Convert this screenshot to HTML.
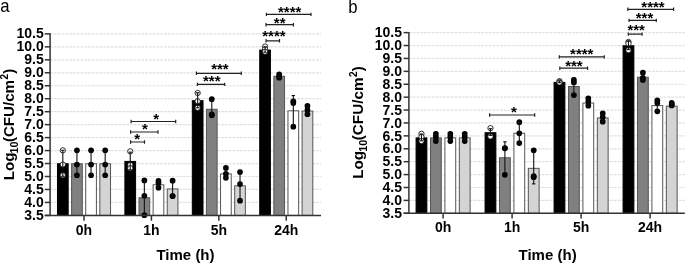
<!DOCTYPE html>
<html><head><meta charset="utf-8"><title>CFU chart</title>
<style>
html,body{margin:0;padding:0;background:#fff;}
svg{display:block;}
text{font-family:"Liberation Sans",Arial,sans-serif;fill:#000;}
.g{stroke:#e0e0e0;stroke-width:1.2;stroke-dasharray:2.8 1;}
.bar{stroke:#555;stroke-width:1;}
.e{stroke:#111;stroke-width:1.1;}
.po{fill:#fff;stroke:#000;stroke-width:0.8;}
.pf{fill:#000;}
.ax{stroke:#333;stroke-width:1.5;}
.br{stroke:#222;stroke-width:1.2;fill:none;}
.yl{font-weight:bold;font-size:14px;text-anchor:end;}
.xl{font-weight:bold;font-size:14px;text-anchor:middle;}
.tt{font-weight:bold;font-size:15px;text-anchor:middle;}
.yt{font-weight:bold;}
.sub,.sup{font-size:9.5px;}
.pl{font-size:18px;}
.st{font-size:15px;text-anchor:middle;font-weight:bold;}
</style></head>
<body>
<svg width="685" height="263" viewBox="0 0 685 263">
<line x1="50.1" y1="202.44" x2="321" y2="202.44" class="g"/>
<line x1="50.1" y1="189.47" x2="321" y2="189.47" class="g"/>
<line x1="50.1" y1="176.5" x2="321" y2="176.5" class="g"/>
<line x1="50.1" y1="163.54" x2="321" y2="163.54" class="g"/>
<line x1="50.1" y1="150.57" x2="321" y2="150.57" class="g"/>
<line x1="50.1" y1="137.61" x2="321" y2="137.61" class="g"/>
<line x1="50.1" y1="124.65" x2="321" y2="124.65" class="g"/>
<line x1="50.1" y1="111.68" x2="321" y2="111.68" class="g"/>
<line x1="50.1" y1="98.72" x2="321" y2="98.72" class="g"/>
<line x1="50.1" y1="85.75" x2="321" y2="85.75" class="g"/>
<line x1="50.1" y1="72.78" x2="321" y2="72.78" class="g"/>
<line x1="50.1" y1="59.82" x2="321" y2="59.82" class="g"/>
<line x1="50.1" y1="46.86" x2="321" y2="46.86" class="g"/>
<line x1="50.1" y1="33.89" x2="321" y2="33.89" class="g"/>
<rect x="57.47" y="163.75" width="10.7" height="51.65" fill="#000000" class="bar" style="stroke:#000"/>
<rect x="71.59" y="163.75" width="10.7" height="51.65" fill="#808080" class="bar"/>
<rect x="85.71" y="163.75" width="10.7" height="51.65" fill="#ffffff" class="bar"/>
<rect x="99.83" y="163.75" width="10.7" height="51.65" fill="#d4d4d4" class="bar"/>
<circle cx="62.82" cy="150.32" r="2.65" class="po"/>
<circle cx="62.82" cy="164.6" r="2.65" class="po"/>
<circle cx="62.82" cy="175.24" r="2.65" class="po"/>
<line x1="62.82" y1="176.27" x2="62.82" y2="150.32" class="e"/>
<line x1="61.12" y1="176.27" x2="64.52" y2="176.27" class="e"/>
<line x1="61.12" y1="150.32" x2="64.52" y2="150.32" class="e"/>
<circle cx="76.94" cy="150.32" r="2.85" class="pf"/>
<circle cx="76.94" cy="164.6" r="2.85" class="pf"/>
<circle cx="76.94" cy="175.24" r="2.85" class="pf"/>
<line x1="76.94" y1="176.27" x2="76.94" y2="150.32" class="e"/>
<line x1="75.24" y1="176.27" x2="78.64" y2="176.27" class="e"/>
<line x1="75.24" y1="150.32" x2="78.64" y2="150.32" class="e"/>
<circle cx="91.06" cy="150.32" r="2.85" class="pf"/>
<circle cx="91.06" cy="164.6" r="2.85" class="pf"/>
<circle cx="91.06" cy="175.24" r="2.85" class="pf"/>
<line x1="91.06" y1="176.27" x2="91.06" y2="150.32" class="e"/>
<line x1="89.36" y1="176.27" x2="92.76" y2="176.27" class="e"/>
<line x1="89.36" y1="150.32" x2="92.76" y2="150.32" class="e"/>
<circle cx="105.18" cy="150.32" r="2.85" class="pf"/>
<circle cx="105.18" cy="164.6" r="2.85" class="pf"/>
<circle cx="105.18" cy="175.24" r="2.85" class="pf"/>
<line x1="105.18" y1="176.27" x2="105.18" y2="150.32" class="e"/>
<line x1="103.48" y1="176.27" x2="106.88" y2="176.27" class="e"/>
<line x1="103.48" y1="150.32" x2="106.88" y2="150.32" class="e"/>
<line x1="84" y1="215.4" x2="84" y2="220.7" class="ax"/>
<rect x="124.89" y="161.41" width="10.7" height="53.99" fill="#000000" class="bar" style="stroke:#000"/>
<rect x="139.01" y="197.74" width="10.7" height="17.66" fill="#808080" class="bar"/>
<rect x="153.13" y="184.77" width="10.7" height="30.63" fill="#ffffff" class="bar"/>
<rect x="167.25" y="188.92" width="10.7" height="26.48" fill="#d4d4d4" class="bar"/>
<circle cx="130.24" cy="151.36" r="2.65" class="po"/>
<circle cx="130.24" cy="164.86" r="2.65" class="po"/>
<circle cx="130.24" cy="168.23" r="2.65" class="po"/>
<line x1="130.24" y1="169.79" x2="130.24" y2="152.14" class="e"/>
<line x1="128.54" y1="169.79" x2="131.94" y2="169.79" class="e"/>
<line x1="128.54" y1="152.14" x2="131.94" y2="152.14" class="e"/>
<circle cx="144.36" cy="180.43" r="2.85" class="pf"/>
<circle cx="144.36" cy="195.74" r="2.85" class="pf"/>
<circle cx="144.36" cy="215.2" r="2.85" class="pf"/>
<line x1="144.36" y1="214.68" x2="144.36" y2="179.91" class="e"/>
<line x1="142.66" y1="214.68" x2="146.06" y2="214.68" class="e"/>
<line x1="142.66" y1="179.91" x2="146.06" y2="179.91" class="e"/>
<circle cx="158.48" cy="180.95" r="2.85" class="pf"/>
<circle cx="158.48" cy="183.02" r="2.85" class="pf"/>
<circle cx="158.48" cy="187.69" r="2.85" class="pf"/>
<line x1="158.48" y1="187.69" x2="158.48" y2="180.95" class="e"/>
<line x1="156.78" y1="187.69" x2="160.18" y2="187.69" class="e"/>
<line x1="156.78" y1="180.95" x2="160.18" y2="180.95" class="e"/>
<circle cx="172.6" cy="180.69" r="2.85" class="pf"/>
<circle cx="172.6" cy="196" r="2.85" class="pf"/>
<circle cx="172.6" cy="196" r="2.85" class="pf"/>
<line x1="172.6" y1="196.26" x2="172.6" y2="180.69" class="e"/>
<line x1="170.9" y1="196.26" x2="174.3" y2="196.26" class="e"/>
<line x1="170.9" y1="180.69" x2="174.3" y2="180.69" class="e"/>
<line x1="151.42" y1="215.4" x2="151.42" y2="220.7" class="ax"/>
<rect x="192.31" y="100.69" width="10.7" height="114.71" fill="#000000" class="bar" style="stroke:#000"/>
<rect x="206.43" y="109.26" width="10.7" height="106.14" fill="#808080" class="bar"/>
<rect x="220.55" y="173.87" width="10.7" height="41.53" fill="#ffffff" class="bar"/>
<rect x="234.67" y="185.81" width="10.7" height="29.59" fill="#d4d4d4" class="bar"/>
<circle cx="197.66" cy="92.98" r="2.65" class="po"/>
<circle cx="197.66" cy="101.28" r="2.65" class="po"/>
<circle cx="197.66" cy="107.77" r="2.65" class="po"/>
<line x1="197.66" y1="107.77" x2="197.66" y2="92.72" class="e"/>
<line x1="195.96" y1="107.77" x2="199.36" y2="107.77" class="e"/>
<line x1="195.96" y1="92.72" x2="199.36" y2="92.72" class="e"/>
<circle cx="211.78" cy="99.2" r="2.85" class="pf"/>
<circle cx="211.78" cy="114.25" r="2.85" class="pf"/>
<circle cx="211.78" cy="115.29" r="2.85" class="pf"/>
<line x1="211.78" y1="116.85" x2="211.78" y2="100.5" class="e"/>
<line x1="210.08" y1="116.85" x2="213.48" y2="116.85" class="e"/>
<line x1="210.08" y1="100.5" x2="213.48" y2="100.5" class="e"/>
<circle cx="225.9" cy="167.97" r="2.85" class="pf"/>
<circle cx="225.9" cy="173.94" r="2.85" class="pf"/>
<circle cx="225.9" cy="177.83" r="2.85" class="pf"/>
<line x1="225.9" y1="178.35" x2="225.9" y2="168.23" class="e"/>
<line x1="224.2" y1="178.35" x2="227.6" y2="178.35" class="e"/>
<line x1="224.2" y1="168.23" x2="227.6" y2="168.23" class="e"/>
<circle cx="240.02" cy="172.12" r="2.85" class="pf"/>
<circle cx="240.02" cy="184.06" r="2.85" class="pf"/>
<circle cx="240.02" cy="200.67" r="2.85" class="pf"/>
<line x1="240.02" y1="199.89" x2="240.02" y2="171.34" class="e"/>
<line x1="238.32" y1="199.89" x2="241.72" y2="199.89" class="e"/>
<line x1="238.32" y1="171.34" x2="241.72" y2="171.34" class="e"/>
<line x1="218.84" y1="215.4" x2="218.84" y2="220.7" class="ax"/>
<rect x="259.73" y="50.09" width="10.7" height="165.31" fill="#000000" class="bar" style="stroke:#000"/>
<rect x="273.85" y="76.3" width="10.7" height="139.1" fill="#808080" class="bar"/>
<rect x="287.97" y="110.81" width="10.7" height="104.59" fill="#ffffff" class="bar"/>
<rect x="302.09" y="111.07" width="10.7" height="104.33" fill="#d4d4d4" class="bar"/>
<circle cx="265.08" cy="46.53" r="2.65" class="po"/>
<circle cx="265.08" cy="49.12" r="2.65" class="po"/>
<circle cx="265.08" cy="51.71" r="2.65" class="po"/>
<line x1="265.08" y1="52.23" x2="265.08" y2="47.04" class="e"/>
<line x1="263.38" y1="52.23" x2="266.78" y2="52.23" class="e"/>
<line x1="263.38" y1="47.04" x2="266.78" y2="47.04" class="e"/>
<circle cx="279.2" cy="74.29" r="2.85" class="pf"/>
<circle cx="279.2" cy="76.37" r="2.85" class="pf"/>
<circle cx="279.2" cy="77.66" r="2.85" class="pf"/>
<line x1="279.2" y1="77.66" x2="279.2" y2="74.03" class="e"/>
<line x1="277.5" y1="77.66" x2="280.9" y2="77.66" class="e"/>
<line x1="277.5" y1="74.03" x2="280.9" y2="74.03" class="e"/>
<circle cx="293.32" cy="101.28" r="2.85" class="pf"/>
<circle cx="293.32" cy="103.1" r="2.85" class="pf"/>
<circle cx="293.32" cy="126.71" r="2.85" class="pf"/>
<line x1="293.32" y1="125.15" x2="293.32" y2="95.57" class="e"/>
<line x1="291.62" y1="125.15" x2="295.02" y2="125.15" class="e"/>
<line x1="291.62" y1="95.57" x2="295.02" y2="95.57" class="e"/>
<circle cx="307.44" cy="105.95" r="2.85" class="pf"/>
<circle cx="307.44" cy="110.1" r="2.85" class="pf"/>
<circle cx="307.44" cy="114.25" r="2.85" class="pf"/>
<line x1="307.44" y1="114.25" x2="307.44" y2="106.47" class="e"/>
<line x1="305.74" y1="114.25" x2="309.14" y2="114.25" class="e"/>
<line x1="305.74" y1="106.47" x2="309.14" y2="106.47" class="e"/>
<line x1="286.26" y1="215.4" x2="286.26" y2="220.7" class="ax"/>
<line x1="50.1" y1="33.19" x2="50.1" y2="215.4" class="ax"/>
<line x1="44.8" y1="215.4" x2="321" y2="215.4" class="ax"/>
<line x1="44.8" y1="215.4" x2="50.1" y2="215.4" class="ax"/>
<text x="43.8" y="220.02" class="yl">3.5</text>
<line x1="44.8" y1="202.44" x2="50.1" y2="202.44" class="ax"/>
<text x="43.8" y="206.99" class="yl">4.0</text>
<line x1="44.8" y1="189.47" x2="50.1" y2="189.47" class="ax"/>
<text x="43.8" y="193.96" class="yl">4.5</text>
<line x1="44.8" y1="176.5" x2="50.1" y2="176.5" class="ax"/>
<text x="43.8" y="180.92" class="yl">5.0</text>
<line x1="44.8" y1="163.54" x2="50.1" y2="163.54" class="ax"/>
<text x="43.8" y="167.89" class="yl">5.5</text>
<line x1="44.8" y1="150.57" x2="50.1" y2="150.57" class="ax"/>
<text x="43.8" y="154.86" class="yl">6.0</text>
<line x1="44.8" y1="137.61" x2="50.1" y2="137.61" class="ax"/>
<text x="43.8" y="141.83" class="yl">6.5</text>
<line x1="44.8" y1="124.65" x2="50.1" y2="124.65" class="ax"/>
<text x="43.8" y="128.8" class="yl">7.0</text>
<line x1="44.8" y1="111.68" x2="50.1" y2="111.68" class="ax"/>
<text x="43.8" y="115.76" class="yl">7.5</text>
<line x1="44.8" y1="98.72" x2="50.1" y2="98.72" class="ax"/>
<text x="43.8" y="102.73" class="yl">8.0</text>
<line x1="44.8" y1="85.75" x2="50.1" y2="85.75" class="ax"/>
<text x="43.8" y="89.7" class="yl">8.5</text>
<line x1="44.8" y1="72.78" x2="50.1" y2="72.78" class="ax"/>
<text x="43.8" y="76.67" class="yl">9.0</text>
<line x1="44.8" y1="59.82" x2="50.1" y2="59.82" class="ax"/>
<text x="43.8" y="63.63" class="yl">9.5</text>
<line x1="44.8" y1="46.86" x2="50.1" y2="46.86" class="ax"/>
<text x="43.8" y="50.6" class="yl">10.0</text>
<line x1="44.8" y1="33.89" x2="50.1" y2="33.89" class="ax"/>
<text x="43.8" y="37.57" class="yl">10.5</text>
<text x="84" y="234.6" class="xl">0h</text>
<text x="151.42" y="234.6" class="xl">1h</text>
<text x="218.84" y="234.6" class="xl">5h</text>
<text x="286.26" y="234.6" class="xl">24h</text>
<text x="185.5" y="259.8" class="tt">Time (h)</text>
<g transform="translate(14.3,179.7) rotate(-90) scale(1.0,1)">
<text transform="translate(-0.6,0) scale(1.043,1)" class="yt" style="font-size:14.5px">Log</text>
<text transform="translate(26.2,3.6) scale(1.08,1)" class="yt" style="font-size:10px">10</text>
<text transform="translate(37.6,0) scale(1.043,1)" class="yt" style="font-size:14.5px">(CFU/cm</text>
<text transform="translate(100.2,-6) scale(1.0,1)" class="yt" style="font-size:10px">2</text>
<text transform="translate(106,0) scale(1.043,1)" class="yt" style="font-size:14.5px">)</text>
</g>
<text transform="translate(0.3,12.2) scale(0.93,1)" class="pl">a</text>
<path d="M130.6,140.3V143.7M130.6,142H144.5M144.5,140.3V143.7" class="br"/>
<text x="137.2" y="144.25" class="st">*</text>
<path d="M130.6,130.3V133.7M130.6,132H158M158,130.3V133.7" class="br"/>
<text x="144.8" y="134.05" class="st">*</text>
<path d="M131.1,119.8V123.2M131.1,121.5H175.7M175.7,119.8V123.2" class="br"/>
<text x="156.2" y="124" class="st">*</text>
<path d="M197.4,82.7V86.1M197.4,84.4H224.7M224.7,82.7V86.1" class="br"/>
<text x="211.8" y="86.2" class="st">***</text>
<path d="M196.4,71.6V75M196.4,73.3H241.3M241.3,71.6V75" class="br"/>
<text x="219.9" y="73.95" class="st">***</text>
<path d="M266,39.1V42.5M266,40.8H279.5M279.5,39.1V42.5" class="br"/>
<text x="273.9" y="40.75" class="st">****</text>
<path d="M266,23V26.4M266,24.7H293.4M293.4,23V26.4" class="br"/>
<text x="279.7" y="27.6" class="st">**</text>
<path d="M266.4,12.7V16.1M266.4,14.4H311M311,12.7V16.1" class="br"/>
<text x="289.65" y="17.05" class="st">****</text>
<line x1="408.9" y1="200.4" x2="684.8" y2="200.4" class="g"/>
<line x1="408.9" y1="187.49" x2="684.8" y2="187.49" class="g"/>
<line x1="408.9" y1="174.59" x2="684.8" y2="174.59" class="g"/>
<line x1="408.9" y1="161.68" x2="684.8" y2="161.68" class="g"/>
<line x1="408.9" y1="148.78" x2="684.8" y2="148.78" class="g"/>
<line x1="408.9" y1="135.87" x2="684.8" y2="135.87" class="g"/>
<line x1="408.9" y1="122.97" x2="684.8" y2="122.97" class="g"/>
<line x1="408.9" y1="110.06" x2="684.8" y2="110.06" class="g"/>
<line x1="408.9" y1="97.16" x2="684.8" y2="97.16" class="g"/>
<line x1="408.9" y1="84.25" x2="684.8" y2="84.25" class="g"/>
<line x1="408.9" y1="71.35" x2="684.8" y2="71.35" class="g"/>
<line x1="408.9" y1="58.44" x2="684.8" y2="58.44" class="g"/>
<line x1="408.9" y1="45.54" x2="684.8" y2="45.54" class="g"/>
<line x1="408.9" y1="32.63" x2="684.8" y2="32.63" class="g"/>
<rect x="416.07" y="137.88" width="10.8" height="75.42" fill="#000000" class="bar" style="stroke:#000"/>
<rect x="430.49" y="137.88" width="10.8" height="75.42" fill="#808080" class="bar"/>
<rect x="444.91" y="137.88" width="10.8" height="75.42" fill="#ffffff" class="bar"/>
<rect x="459.33" y="137.88" width="10.8" height="75.42" fill="#d4d4d4" class="bar"/>
<circle cx="421.47" cy="133.82" r="2.65" class="po"/>
<circle cx="421.47" cy="136.92" r="2.65" class="po"/>
<circle cx="421.47" cy="141.05" r="2.65" class="po"/>
<line x1="421.47" y1="140.79" x2="421.47" y2="134.08" class="e"/>
<line x1="419.77" y1="140.79" x2="423.17" y2="140.79" class="e"/>
<line x1="419.77" y1="134.08" x2="423.17" y2="134.08" class="e"/>
<circle cx="435.89" cy="133.82" r="2.85" class="pf"/>
<circle cx="435.89" cy="136.92" r="2.85" class="pf"/>
<circle cx="435.89" cy="141.05" r="2.85" class="pf"/>
<line x1="435.89" y1="140.79" x2="435.89" y2="134.08" class="e"/>
<line x1="434.19" y1="140.79" x2="437.59" y2="140.79" class="e"/>
<line x1="434.19" y1="134.08" x2="437.59" y2="134.08" class="e"/>
<circle cx="450.31" cy="133.82" r="2.85" class="pf"/>
<circle cx="450.31" cy="136.92" r="2.85" class="pf"/>
<circle cx="450.31" cy="141.05" r="2.85" class="pf"/>
<line x1="450.31" y1="140.79" x2="450.31" y2="134.08" class="e"/>
<line x1="448.61" y1="140.79" x2="452.01" y2="140.79" class="e"/>
<line x1="448.61" y1="134.08" x2="452.01" y2="134.08" class="e"/>
<circle cx="464.73" cy="133.82" r="2.85" class="pf"/>
<circle cx="464.73" cy="136.92" r="2.85" class="pf"/>
<circle cx="464.73" cy="141.05" r="2.85" class="pf"/>
<line x1="464.73" y1="140.79" x2="464.73" y2="134.08" class="e"/>
<line x1="463.03" y1="140.79" x2="466.43" y2="140.79" class="e"/>
<line x1="463.03" y1="134.08" x2="466.43" y2="134.08" class="e"/>
<line x1="443.1" y1="213.3" x2="443.1" y2="218.6" class="ax"/>
<rect x="485.07" y="132.72" width="10.8" height="80.58" fill="#000000" class="bar" style="stroke:#000"/>
<rect x="499.49" y="157.76" width="10.8" height="55.54" fill="#808080" class="bar"/>
<rect x="513.91" y="133.24" width="10.8" height="80.06" fill="#ffffff" class="bar"/>
<rect x="528.33" y="168.34" width="10.8" height="44.96" fill="#d4d4d4" class="bar"/>
<circle cx="490.47" cy="128.14" r="2.65" class="po"/>
<circle cx="490.47" cy="136.14" r="2.65" class="po"/>
<circle cx="490.47" cy="136.4" r="2.65" class="po"/>
<line x1="490.47" y1="135.37" x2="490.47" y2="128.66" class="e"/>
<line x1="488.77" y1="135.37" x2="492.17" y2="135.37" class="e"/>
<line x1="488.77" y1="128.66" x2="492.17" y2="128.66" class="e"/>
<circle cx="504.89" cy="148.02" r="2.85" class="pf"/>
<circle cx="504.89" cy="148.28" r="2.85" class="pf"/>
<circle cx="504.89" cy="174.86" r="2.85" class="pf"/>
<line x1="504.89" y1="172.79" x2="504.89" y2="141.82" class="e"/>
<line x1="503.19" y1="172.79" x2="506.59" y2="172.79" class="e"/>
<line x1="503.19" y1="141.82" x2="506.59" y2="141.82" class="e"/>
<circle cx="519.31" cy="122.21" r="2.85" class="pf"/>
<circle cx="519.31" cy="133.31" r="2.85" class="pf"/>
<circle cx="519.31" cy="143.11" r="2.85" class="pf"/>
<line x1="519.31" y1="143.11" x2="519.31" y2="122.47" class="e"/>
<line x1="517.61" y1="143.11" x2="521.01" y2="143.11" class="e"/>
<line x1="517.61" y1="122.47" x2="521.01" y2="122.47" class="e"/>
<circle cx="533.73" cy="150.34" r="2.85" class="pf"/>
<circle cx="533.73" cy="176.15" r="2.85" class="pf"/>
<circle cx="533.73" cy="177.18" r="2.85" class="pf"/>
<line x1="533.73" y1="183.89" x2="533.73" y2="151.89" class="e"/>
<line x1="532.03" y1="183.89" x2="535.43" y2="183.89" class="e"/>
<line x1="532.03" y1="151.89" x2="535.43" y2="151.89" class="e"/>
<line x1="512.1" y1="213.3" x2="512.1" y2="218.6" class="ax"/>
<rect x="554.07" y="82.39" width="10.8" height="130.91" fill="#000000" class="bar" style="stroke:#000"/>
<rect x="568.49" y="86.52" width="10.8" height="126.78" fill="#808080" class="bar"/>
<rect x="582.91" y="103.04" width="10.8" height="110.26" fill="#ffffff" class="bar"/>
<rect x="597.33" y="118.01" width="10.8" height="95.29" fill="#d4d4d4" class="bar"/>
<circle cx="559.47" cy="81.17" r="2.65" class="po"/>
<circle cx="559.47" cy="82.46" r="2.65" class="po"/>
<circle cx="559.47" cy="82.46" r="2.65" class="po"/>
<line x1="559.47" y1="82.72" x2="559.47" y2="80.91" class="e"/>
<line x1="557.77" y1="82.72" x2="561.17" y2="82.72" class="e"/>
<line x1="557.77" y1="80.91" x2="561.17" y2="80.91" class="e"/>
<circle cx="573.89" cy="79.88" r="2.85" class="pf"/>
<circle cx="573.89" cy="82.46" r="2.85" class="pf"/>
<circle cx="573.89" cy="95.11" r="2.85" class="pf"/>
<line x1="573.89" y1="94.07" x2="573.89" y2="78.07" class="e"/>
<line x1="572.19" y1="94.07" x2="575.59" y2="94.07" class="e"/>
<line x1="572.19" y1="78.07" x2="575.59" y2="78.07" class="e"/>
<circle cx="588.31" cy="98.46" r="2.85" class="pf"/>
<circle cx="588.31" cy="101.82" r="2.85" class="pf"/>
<circle cx="588.31" cy="105.69" r="2.85" class="pf"/>
<line x1="588.31" y1="106.2" x2="588.31" y2="98.98" class="e"/>
<line x1="586.61" y1="106.2" x2="590.01" y2="106.2" class="e"/>
<line x1="586.61" y1="98.98" x2="590.01" y2="98.98" class="e"/>
<circle cx="602.73" cy="113.43" r="2.85" class="pf"/>
<circle cx="602.73" cy="117.3" r="2.85" class="pf"/>
<circle cx="602.73" cy="121.69" r="2.85" class="pf"/>
<line x1="602.73" y1="121.69" x2="602.73" y2="113.43" class="e"/>
<line x1="601.03" y1="121.69" x2="604.43" y2="121.69" class="e"/>
<line x1="601.03" y1="113.43" x2="604.43" y2="113.43" class="e"/>
<line x1="581.1" y1="213.3" x2="581.1" y2="218.6" class="ax"/>
<rect x="623.07" y="45.74" width="10.8" height="167.56" fill="#000000" class="bar" style="stroke:#000"/>
<rect x="637.49" y="77.23" width="10.8" height="136.07" fill="#808080" class="bar"/>
<rect x="651.91" y="105.62" width="10.8" height="107.68" fill="#ffffff" class="bar"/>
<rect x="666.33" y="106.14" width="10.8" height="107.16" fill="#d4d4d4" class="bar"/>
<circle cx="628.47" cy="41.94" r="2.65" class="po"/>
<circle cx="628.47" cy="43.49" r="2.65" class="po"/>
<circle cx="628.47" cy="50.2" r="2.65" class="po"/>
<line x1="628.47" y1="49.68" x2="628.47" y2="40.91" class="e"/>
<line x1="626.77" y1="49.68" x2="630.17" y2="49.68" class="e"/>
<line x1="626.77" y1="40.91" x2="630.17" y2="40.91" class="e"/>
<circle cx="642.89" cy="72.65" r="2.85" class="pf"/>
<circle cx="642.89" cy="77.81" r="2.85" class="pf"/>
<circle cx="642.89" cy="79.88" r="2.85" class="pf"/>
<line x1="642.89" y1="80.39" x2="642.89" y2="73.17" class="e"/>
<line x1="641.19" y1="80.39" x2="644.59" y2="80.39" class="e"/>
<line x1="641.19" y1="73.17" x2="644.59" y2="73.17" class="e"/>
<circle cx="657.31" cy="100.27" r="2.85" class="pf"/>
<circle cx="657.31" cy="103.11" r="2.85" class="pf"/>
<circle cx="657.31" cy="111.37" r="2.85" class="pf"/>
<line x1="657.31" y1="111.11" x2="657.31" y2="99.24" class="e"/>
<line x1="655.61" y1="111.11" x2="659.01" y2="111.11" class="e"/>
<line x1="655.61" y1="99.24" x2="659.01" y2="99.24" class="e"/>
<circle cx="671.73" cy="102.85" r="2.85" class="pf"/>
<circle cx="671.73" cy="104.4" r="2.85" class="pf"/>
<circle cx="671.73" cy="105.43" r="2.85" class="pf"/>
<line x1="671.73" y1="106.46" x2="671.73" y2="102.85" class="e"/>
<line x1="670.03" y1="106.46" x2="673.43" y2="106.46" class="e"/>
<line x1="670.03" y1="102.85" x2="673.43" y2="102.85" class="e"/>
<line x1="650.1" y1="213.3" x2="650.1" y2="218.6" class="ax"/>
<line x1="408.9" y1="31.93" x2="408.9" y2="213.3" class="ax"/>
<line x1="403.6" y1="213.3" x2="684.8" y2="213.3" class="ax"/>
<line x1="403.6" y1="213.3" x2="408.9" y2="213.3" class="ax"/>
<text x="402" y="218" class="yl">3.5</text>
<line x1="403.6" y1="200.4" x2="408.9" y2="200.4" class="ax"/>
<text x="402" y="205.09" class="yl">4.0</text>
<line x1="403.6" y1="187.49" x2="408.9" y2="187.49" class="ax"/>
<text x="402" y="192.19" class="yl">4.5</text>
<line x1="403.6" y1="174.59" x2="408.9" y2="174.59" class="ax"/>
<text x="402" y="179.28" class="yl">5.0</text>
<line x1="403.6" y1="161.68" x2="408.9" y2="161.68" class="ax"/>
<text x="402" y="166.38" class="yl">5.5</text>
<line x1="403.6" y1="148.78" x2="408.9" y2="148.78" class="ax"/>
<text x="402" y="153.48" class="yl">6.0</text>
<line x1="403.6" y1="135.87" x2="408.9" y2="135.87" class="ax"/>
<text x="402" y="140.57" class="yl">6.5</text>
<line x1="403.6" y1="122.97" x2="408.9" y2="122.97" class="ax"/>
<text x="402" y="127.67" class="yl">7.0</text>
<line x1="403.6" y1="110.06" x2="408.9" y2="110.06" class="ax"/>
<text x="402" y="114.76" class="yl">7.5</text>
<line x1="403.6" y1="97.16" x2="408.9" y2="97.16" class="ax"/>
<text x="402" y="101.86" class="yl">8.0</text>
<line x1="403.6" y1="84.25" x2="408.9" y2="84.25" class="ax"/>
<text x="402" y="88.95" class="yl">8.5</text>
<line x1="403.6" y1="71.35" x2="408.9" y2="71.35" class="ax"/>
<text x="402" y="76.05" class="yl">9.0</text>
<line x1="403.6" y1="58.44" x2="408.9" y2="58.44" class="ax"/>
<text x="402" y="63.14" class="yl">9.5</text>
<line x1="403.6" y1="45.54" x2="408.9" y2="45.54" class="ax"/>
<text x="402" y="50.24" class="yl">10.0</text>
<line x1="403.6" y1="32.63" x2="408.9" y2="32.63" class="ax"/>
<text x="402" y="37.33" class="yl">10.5</text>
<text x="443.1" y="232.2" class="xl">0h</text>
<text x="512.1" y="232.2" class="xl">1h</text>
<text x="581.1" y="232.2" class="xl">5h</text>
<text x="650.1" y="232.2" class="xl">24h</text>
<text x="547.6" y="259.8" class="tt">Time (h)</text>
<g transform="translate(363.3,178.2) rotate(-90) scale(1.009,1)">
<text transform="translate(-0.6,0) scale(1.043,1)" class="yt" style="font-size:14.5px">Log</text>
<text transform="translate(26.2,3.6) scale(1.08,1)" class="yt" style="font-size:10px">10</text>
<text transform="translate(37.6,0) scale(1.043,1)" class="yt" style="font-size:14.5px">(CFU/cm</text>
<text transform="translate(100.2,-6) scale(1.0,1)" class="yt" style="font-size:10px">2</text>
<text transform="translate(106,0) scale(1.043,1)" class="yt" style="font-size:14.5px">)</text>
</g>
<text transform="translate(348.2,12.8) scale(0.93,1)" class="pl">b</text>
<path d="M489.6,113.3V116.7M489.6,115H534.7M534.7,113.3V116.7" class="br"/>
<text x="514" y="116.5" class="st">*</text>
<path d="M559.8,66.5V69.9M559.8,68.2H587.6M587.6,66.5V69.9" class="br"/>
<text x="573.9" y="70.5" class="st">***</text>
<path d="M559.3,55.2V58.6M559.3,56.9H604.3M604.3,55.2V58.6" class="br"/>
<text x="581.8" y="58.5" class="st">****</text>
<path d="M628.3,32.4V35.8M628.3,34.1H642.1M642.1,32.4V35.8" class="br"/>
<text x="636.2" y="35" class="st">***</text>
<path d="M629,18.7V22.1M629,20.4H656.3M656.3,18.7V22.1" class="br"/>
<text x="644.5" y="22.7" class="st">***</text>
<path d="M627.8,7.6V11M627.8,9.3H673.6M673.6,7.6V11" class="br"/>
<text x="653" y="11.8" class="st">****</text>
</svg>
</body></html>
